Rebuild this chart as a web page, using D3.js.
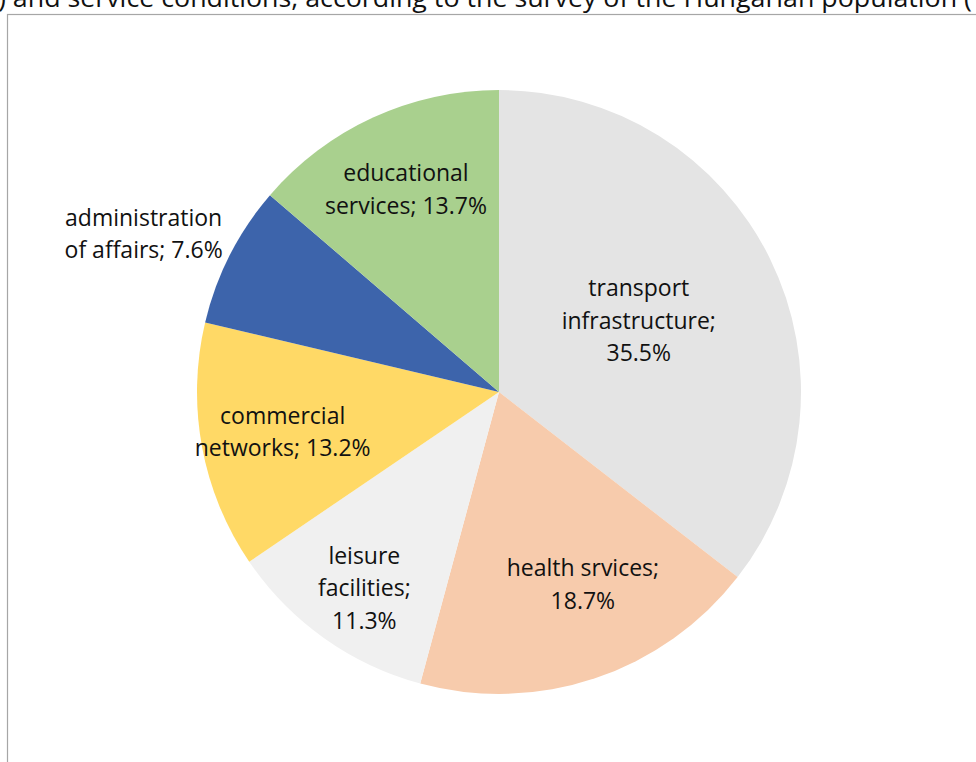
<!DOCTYPE html>
<html>
<head>
<meta charset="utf-8">
<script src="https://cdn.jsdelivr.net/npm/d3@7"></script>
<style>
  html, body { margin: 0; padding: 0; background: #fff; overflow: hidden; }
  svg { display: block; }
  text { font-family: "Open Sans", "Noto Sans", sans-serif; fill: #111; }
</style>
</head>
<body>
<svg id="chart" width="976" height="762"></svg>
<script>
// ---- data ----
const categories = ["transport infrastructure", "health srvices", "leisure facilities",
                    "commercial networks", "administration of affairs", "educational services"];
const values = [35.5, 18.7, 11.3, 13.2, 7.6, 13.7];
const colors = ["#e4e4e4", "#f7cbac", "#f0f0f0", "#ffd966", "#3d64ab", "#a9d08e"];
const titleText = ") and service conditions, according to the survey of the Hungarian population (";
// how each label wraps (line breaks only)
const labelLines = [
  ["transport", "infrastructure;", "{v}"],
  ["health srvices;", "{v}"],
  ["leisure", "facilities;", "{v}"],
  ["commercial", "networks; {v}"],
  ["administration", "of affairs; {v}"],
  ["educational", "services; {v}"]
];

// ---- layout ----
const W = 976, H = 762;
const cx = 499, cy = 392, R = 302;
const labelRadius = [157, 210, 238, 220, 389, 223];
const labelAngleShift = [-1, -5, -1, 0, -3, 0]; // degrees
const lineH = 32.5;

const svg = d3.select("#chart");

svg.append("text")
  .attr("x", -2).attr("y", 7)
  .attr("font-size", 26)
  .attr("textLength", 974)
  .attr("lengthAdjust", "spacingAndGlyphs")
  .text(titleText);

svg.append("rect")
  .attr("x", 7.5).attr("y", 14.5)
  .attr("width", 1200).attr("height", 1200)
  .attr("fill", "#fff")
  .attr("stroke", "#a6a6a6").attr("stroke-width", 1.2);

const data = categories.map((c, i) => ({ cat: c, value: values[i], color: colors[i], i }));

const pie = d3.pie().value(d => d.value).sort(null);
const arcs = pie(data);
const arc = d3.arc().innerRadius(0).outerRadius(R);

const g = svg.append("g").attr("transform", `translate(${cx},${cy})`);

g.selectAll("path.slice")
  .data(arcs)
  .join("path")
  .attr("class", "slice")
  .attr("d", arc)
  .attr("fill", d => d.data.color)
  .attr("stroke", "none");

const fmt = v => d3.format(".1f")(v) + "%";

arcs.forEach(a => {
  const i = a.data.i;
  const mid = (a.startAngle + a.endAngle) / 2 + labelAngleShift[i] * Math.PI / 180;
  const r = labelRadius[i];
  const x = Math.sin(mid) * r, y = -Math.cos(mid) * r;
  const lines = labelLines[i].map(s => s.replace("{v}", fmt(a.data.value)));
  const t = g.append("text")
    .attr("text-anchor", "middle")
    .attr("font-size", 23)
    .attr("transform", `translate(${x},${y})`);
  const n = lines.length;
  lines.forEach((ln, k) => {
    t.append("tspan")
      .attr("x", 0)
      .attr("y", (k - (n - 1) / 2) * lineH)
      .attr("dy", "0.35em")
      .text(ln);
  });
});
</script>
</body>
</html>
